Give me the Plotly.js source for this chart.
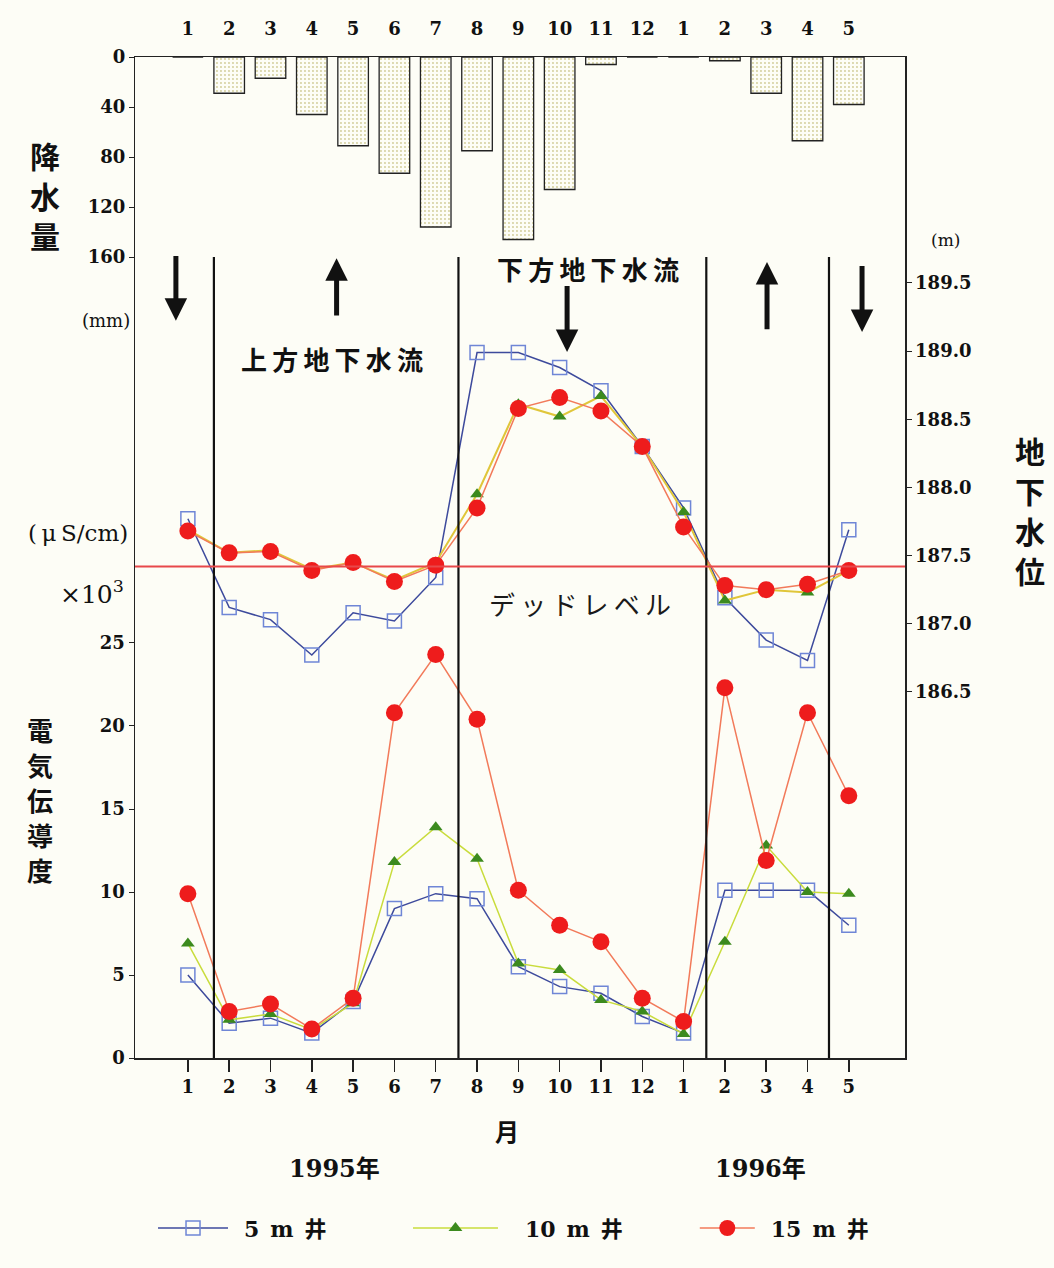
<!DOCTYPE html>
<html>
<head>
<meta charset="utf-8">
<script src="https://cdn.plot.ly/plotly-3.0.1.min.js"></script>
<style>
html,body{margin:0;padding:0;background:#fdfdf6;}
#chart{width:1054px;height:1268px;}
</style>
</head>
<body>
<div id="chart"></div>
<script>
// ---- data ----
const monthLabels = ['1','2','3','4','5','6','7','8','9','10','11','12','1','2','3','4','5'];
const precipitation = [0, 29, 17, 46, 71, 93, 136, 75, 146, 106, 6, 0, 0, 3, 29, 67, 38]; // mm

// groundwater level (m)
const gw5m  = [187.77, 187.12, 187.03, 186.77, 187.08, 187.02, 187.34, 188.99, 188.99, 188.88, 188.71, 188.30, 187.85, 187.19, 186.88, 186.73, 187.69];
const gw10m = [187.69, 187.52, 187.54, 187.40, 187.45, 187.32, 187.45, 187.95, 188.61, 188.52, 188.67, 188.30, 187.82, 187.17, 187.25, 187.23, 187.39];
const gw15m = [187.68, 187.52, 187.53, 187.39, 187.45, 187.31, 187.43, 187.85, 188.58, 188.66, 188.56, 188.30, 187.71, 187.28, 187.25, 187.29, 187.39];

// electric conductivity (x10^3 uS/cm)
const ec5m  = [5.0, 2.1, 2.4, 1.5, 3.4, 9.0, 9.9, 9.6, 5.5, 4.3, 3.9, 2.5, 1.5, 10.1, 10.1, 10.1, 8.0];
const ec10m = [6.9, 2.3, 2.65, 1.7, 3.3, 11.8, 13.9, 12.0, 5.7, 5.3, 3.5, 2.8, 1.45, 7.0, 12.8, 10.0, 9.9];
const ec15m = [9.9, 2.8, 3.25, 1.75, 3.6, 20.8, 24.3, 20.4, 10.1, 8.0, 7.0, 3.6, 2.2, 22.3, 11.9, 20.8, 15.8];

const deadLevel = 187.42;
const flowBoundaries = [0.63, 6.55, 12.55, 15.52];
const precipTicks = [0, 40, 80, 120, 160];
const ecTicks = [0, 5, 10, 15, 20, 25];
const gwTicks = [186.5, 187.0, 187.5, 188.0, 188.5, 189.0, 189.5];
// flow direction arrows: [x position, tail (mm axis), head (mm axis)]
const flowArrows = [[-0.29, 158, 211], [3.6, 208, 161], [9.18, 182, 236], [14.02, 219, 164], [16.32, 166, 220]];

const xs = monthLabels.map((_, i) => i);

const serif = 'DejaVu Serif, Liberation Serif, serif';
const cjk = 'Noto Sans CJK JP, sans-serif';
const tickFont = {family: serif, size: 18, color: '#111', weight: 'bold'};
const T = '\u2009', E = '\u2002';

const traces = [
  {type: 'bar', x: xs, y: precipitation, yaxis: 'y3', xaxis: 'x', width: 0.74,
   marker: {color: '#f7f3c6', line: {color: '#222', width: 1.3},
            pattern: {shape: '.', fgcolor: '#d2cd98', size: 4, solidity: 0.18}},
   showlegend: false, hoverinfo: 'skip'},
  // groundwater
  {type: 'scatter', mode: 'lines+markers', x: xs, y: gw5m, yaxis: 'y2', showlegend: false,
   line: {color: '#3d4a9c', width: 1.5},
   marker: {symbol: 'square-open', size: 14, color: '#6f86d6', line: {width: 1.5}}},
  {type: 'scatter', mode: 'lines+markers', x: xs, y: gw10m, yaxis: 'y2', showlegend: false,
   line: {color: '#e0c63a', width: 2},
   marker: {symbol: 'triangle-up', size: 12, color: '#3c8a1e'}},
  {type: 'scatter', mode: 'lines+markers', x: xs, y: gw15m, yaxis: 'y2', showlegend: false,
   line: {color: '#f27a5a', width: 1.5},
   marker: {symbol: 'circle', size: 17, color: '#ee1c1c'}},
  // conductivity
  {type: 'scatter', mode: 'lines+markers', x: xs, y: ec5m, yaxis: 'y', name: E + '5' + E + 'm' + E + '井', legend: 'legend',
   line: {color: '#3d4a9c', width: 1.5},
   marker: {symbol: 'square-open', size: 14, color: '#6f86d6', line: {width: 1.5}}},
  {type: 'scatter', mode: 'lines+markers', x: xs, y: ec10m, yaxis: 'y', name: E + E + '10' + E + 'm' + E + '井', legend: 'legend2',
   line: {color: '#c9dc3c', width: 1.5},
   marker: {symbol: 'triangle-up', size: 12, color: '#3c8a1e'}},
  {type: 'scatter', mode: 'lines+markers', x: xs, y: ec15m, yaxis: 'y', name: E + '15' + E + 'm' + E + '井', legend: 'legend3',
   line: {color: '#f27a5a', width: 1.5},
   marker: {symbol: 'circle', size: 17, color: '#ee1c1c'}}
];

const shapes = flowBoundaries.map(b => ({
  type: 'line', xref: 'x', yref: 'y3', x0: b, x1: b, y0: 160, y1: 800.8,
  line: {color: '#111', width: 2.2}
}));
shapes.push({type: 'line', xref: 'paper', yref: 'y2', x0: 0, x1: 1, y0: deadLevel, y1: deadLevel,
  line: {color: '#e8484a', width: 1.8}});

const annotations = [];
flowArrows.forEach(a => annotations.push({
  xref: 'x', yref: 'y3', axref: 'x', ayref: 'y3', x: a[0], y: a[2], ax: a[0], ay: a[1],
  text: '', showarrow: true, arrowhead: 2, arrowsize: 0.9, arrowwidth: 5, arrowcolor: '#111'
}));
const txt = (text, x, y, xref, yref, font, extra) => Object.assign({
  text: text, x: x, y: y, xref: xref, yref: yref, showarrow: false,
  xanchor: 'center', yanchor: 'middle',
  font: Object.assign({family: cjk, color: '#111', weight: 'bold'}, font)
}, extra || {});
const spaced = s => s.split('').join(T);
// vertical (stacked) text: one annotation per character
const vertical = (s, x, y, step, size) => {
  const chars = s.split('');
  chars.forEach((c, i) => annotations.push(
    txt(c, x, y, 'paper', 'paper', {size: size}, {yshift: -(i - (chars.length - 1) / 2) * step})));
};
annotations.push(txt(spaced('上方地下水流'), 3.49, 241, 'x', 'y3', {size: 26}));
annotations.push(txt(spaced('下方地下水流'), 9.69, 169, 'x', 'y3', {size: 26}));
annotations.push(txt(spaced('デッドレベル'), 9.49, 187.15, 'x', 'y2', {size: 26, weight: 'normal', color: '#1a1a1a'}));
vertical('降水量', -0.117, 0.862, 40, 30);
annotations.push(txt('(mm)', -0.004, 0.737, 'paper', 'paper', {family: serif, size: 18, weight: 'normal'}, {xanchor: 'right'}));
annotations.push(txt('(' + T + 'μ' + T + 'S/cm)', -0.006, 0.5245, 'paper', 'paper', {family: serif, size: 23, weight: 'normal'}, {xanchor: 'right'}));
annotations.push(txt('×10<sup>3</sup>', -0.012, 0.465, 'paper', 'paper', {family: serif, size: 25, weight: 'normal'}, {xanchor: 'right'}));
vertical('電気伝導度', -0.123, 0.258, 35, 26);
vertical('地下水位', 1.162, 0.547, 40, 30);
annotations.push(txt('(m)', 1.052, 0.817, 'paper', 'paper', {family: serif, size: 17, weight: 'normal'}));
annotations.push(txt('月', 7.72, -0.072, 'x', 'paper', {size: 24}));
annotations.push(txt('1995年', 3.56, -0.11, 'x', 'paper', {family: serif + ', Noto Sans CJK JP', size: 24}));
annotations.push(txt('1996年', 13.85, -0.11, 'x', 'paper', {family: serif + ', Noto Sans CJK JP', size: 24}));

const legendBase = {orientation: 'h', yref: 'paper', y: -0.17, yanchor: 'middle', xanchor: 'left',
  bgcolor: 'rgba(0,0,0,0)', font: {family: serif + ', Noto Sans CJK JP', size: 22, color: '#111', weight: 'bold'}};

const layout = {
  width: 1054, height: 1268,
  margin: {l: 135, r: 149, t: 57, b: 210},
  paper_bgcolor: '#fdfdf6', plot_bgcolor: '#fdfdf6',
  showlegend: true,
  legend: Object.assign({}, legendBase, {x: 0.0234, itemwidth: 70}),
  legend2: Object.assign({}, legendBase, {x: 0.3545, itemwidth: 85}),
  legend3: Object.assign({}, legendBase, {x: 0.727, itemwidth: 55}),
  bargap: 0,
  xaxis: {range: [-1.28, 17.36], tickvals: xs, ticktext: monthLabels, showgrid: false, zeroline: false,
          showline: true, linecolor: '#222', linewidth: 1.5, ticks: 'outside', ticklen: 12, tickwidth: 1.5,
          tickcolor: '#222', tickfont: tickFont},
  xaxis2: {overlaying: 'x', side: 'top', range: [-1.28, 17.36], tickvals: xs, ticktext: monthLabels,
           showgrid: false, zeroline: false, showline: true, linecolor: '#222', linewidth: 1.5,
           ticks: 'outside', ticklen: 13, tickcolor: 'rgba(0,0,0,0)', tickfont: tickFont},
  yaxis: {range: [0, 60.3], tickvals: ecTicks, showgrid: false, zeroline: false, showline: true,
          linecolor: '#222', linewidth: 1.5, ticks: 'outside', ticklen: 5, tickcolor: '#222', tickfont: tickFont},
  yaxis2: {overlaying: 'y', side: 'right', range: [183.814, 191.158], tickvals: gwTicks, tickformat: '.1f',
           showgrid: false, zeroline: false, showline: true, linecolor: '#222', linewidth: 1.5,
           ticks: 'outside', ticklen: 5, tickcolor: '#222', tickfont: tickFont},
  yaxis3: {overlaying: 'y', side: 'left', range: [800.8, 0], tickvals: precipTicks, showgrid: false,
           zeroline: false, showline: false, ticks: 'outside', ticklen: 5, tickcolor: '#222', tickfont: tickFont},
  shapes: shapes,
  annotations: annotations
};

// invisible trace so the top month axis is drawn
traces.push({type: 'scatter', x: [0], y: [0], xaxis: 'x2', yaxis: 'y', mode: 'markers',
  marker: {opacity: 0}, showlegend: false, hoverinfo: 'skip'});

Plotly.newPlot('chart', traces, layout, {staticPlot: true});
</script>
</body>
</html>
